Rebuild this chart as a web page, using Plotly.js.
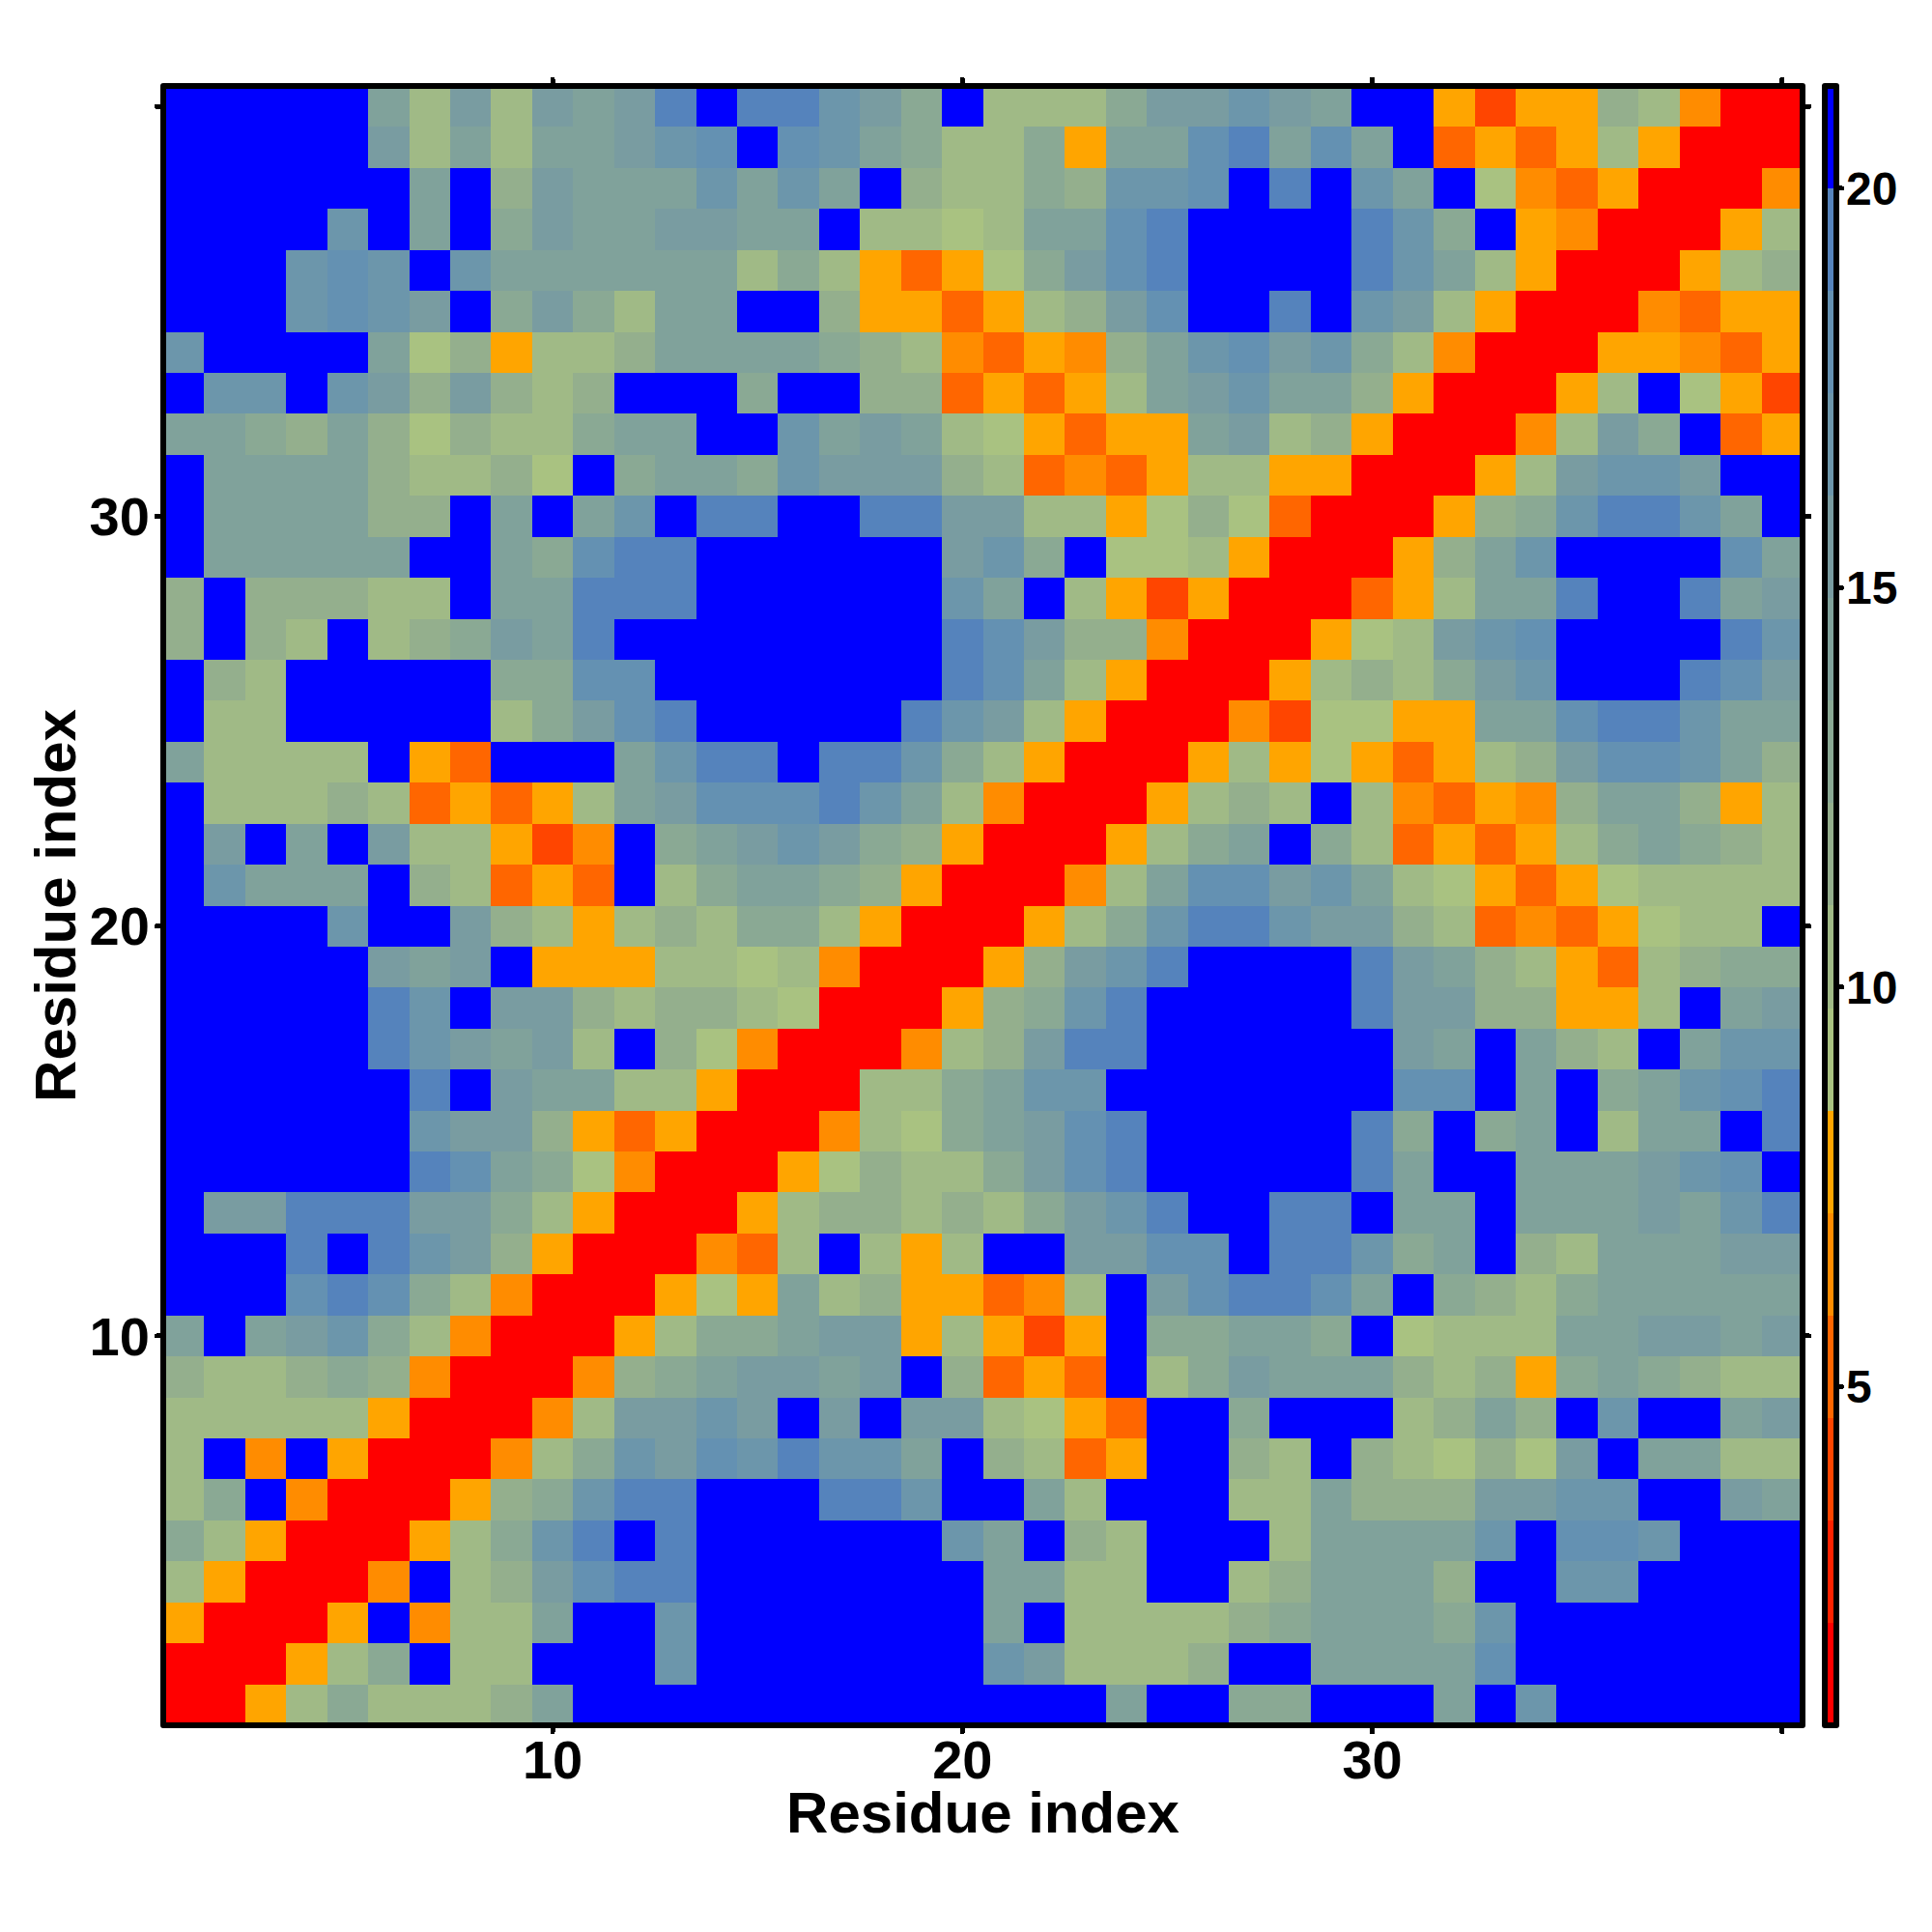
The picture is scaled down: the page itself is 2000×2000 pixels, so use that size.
<!DOCTYPE html>
<html>
<head>
<meta charset="utf-8">
<script src="https://cdn.plot.ly/plotly-3.0.1.min.js"></script>
<style>
html,body{margin:0;padding:0;background:#fff}
.ticks{stroke-linecap:round}
.shapelayer path{stroke-linejoin:round}
.cboutline{stroke-linejoin:round}
</style>
</head>
<body>
<div id="chart" style="width:2000px;height:2000px"></div>
<script>
const residues = [];
for (let i = 1; i <= 40; i++) residues.push(i);

const y40 = [21,21,21,21,21,14,10,15,10,15,14,15,19,21,19,19,17,15,13,21,10,10,10,13,15,15,17,15,14,21,21,8,4,8,8,12,10,6,1,1];
const y39 = [21,21,21,21,21,15,10,14,10,14,14,15,17,18,21,18,17,14,13,10,10,13,8,14,14,18,19,14,18,14,21,5,8,5,8,10,8,1,1,1];
const y38 = [21,21,21,21,21,21,14,21,12,15,14,14,14,17,14,17,14,21,12,10,10,13,12,17,17,18,21,19,21,17,14,21,9,6,5,8,1,1,1,6];
const y37 = [21,21,21,21,17,21,14,21,13,15,14,14,15,15,14,14,21,10,10,9,10,14,14,18,19,21,21,21,21,19,17,13,21,8,6,1,1,1,8,10];
const y36 = [21,21,21,17,18,17,21,17,14,14,14,14,14,14,10,13,10,8,5,8,9,13,15,18,19,21,21,21,21,19,17,14,10,8,1,1,1,8,10,12];
const y35 = [21,21,21,17,18,17,15,21,13,15,13,10,14,14,21,21,12,8,8,5,8,10,12,15,18,21,21,19,21,17,15,10,8,1,1,1,6,5,8,8];
const y34 = [17,21,21,21,21,14,9,12,8,10,10,12,14,14,14,14,13,12,10,6,5,8,6,12,14,17,18,15,17,13,10,6,1,1,1,8,8,6,5,8];
const y33 = [21,17,17,21,17,15,12,15,12,10,12,21,21,21,13,21,21,12,12,5,8,5,8,10,14,15,17,14,14,12,8,1,1,1,8,10,21,9,8,4];
const y32 = [14,14,13,12,14,12,9,12,10,10,13,14,14,21,21,17,14,15,14,10,9,8,5,8,8,14,15,10,12,8,1,1,1,6,10,15,13,21,5,8];
const y31 = [21,14,14,14,14,12,10,10,12,9,21,13,14,14,13,17,15,15,15,12,10,5,6,5,8,10,10,8,8,1,1,1,8,10,15,17,17,15,21,21];
const y30 = [21,14,14,14,14,12,12,21,14,21,14,17,21,19,19,21,21,19,19,15,15,10,10,8,9,12,9,5,1,1,1,8,12,13,17,19,19,17,14,21];
const y29 = [21,14,14,14,14,14,21,21,14,13,18,19,19,21,21,21,21,21,21,15,17,13,21,9,9,10,8,1,1,1,8,12,14,17,21,21,21,21,18,14];
const y28 = [12,21,12,12,12,10,10,21,14,14,19,19,19,21,21,21,21,21,21,17,14,21,10,8,4,8,1,1,1,5,8,10,14,14,19,21,21,19,14,15];
const y27 = [12,21,12,10,21,10,12,13,15,14,19,21,21,21,21,21,21,21,21,19,18,15,12,12,6,1,1,1,8,9,10,15,17,18,21,21,21,21,19,17];
const y26 = [21,12,10,21,21,21,21,21,13,13,18,18,21,21,21,21,21,21,21,19,18,14,10,8,1,1,1,8,10,12,10,13,15,17,21,21,21,19,18,15];
const y25 = [21,10,10,21,21,21,21,21,10,13,15,18,19,21,21,21,21,21,19,17,15,10,8,1,1,1,6,4,9,9,8,8,14,14,18,19,19,17,14,14];
const y24 = [14,10,10,10,10,21,8,5,21,21,21,14,17,19,19,21,19,19,17,13,10,8,1,1,1,8,10,8,9,8,5,8,10,12,15,18,18,17,14,12];
const y23 = [21,10,10,10,12,10,5,8,5,8,10,14,15,18,18,18,19,17,14,10,6,1,1,1,8,10,12,10,21,10,6,5,8,6,12,14,14,12,8,10];
const y22 = [21,15,21,14,21,15,10,10,8,4,6,21,13,14,15,17,15,13,12,8,1,1,1,8,10,13,14,21,13,10,5,8,5,8,10,13,14,13,12,10];
const y21 = [21,17,14,14,14,21,12,10,5,8,5,21,10,13,14,14,13,12,8,1,1,1,6,10,14,18,18,15,17,14,10,9,8,5,8,9,10,10,10,10];
const y20 = [21,21,21,21,17,21,21,15,12,10,8,10,12,10,13,13,10,8,1,1,1,8,10,13,17,19,19,17,15,15,12,10,5,6,5,8,9,10,10,21];
const y19 = [21,21,21,21,21,15,14,15,21,8,8,8,10,10,9,10,6,1,1,1,8,12,15,17,19,21,21,21,21,19,15,14,12,10,8,5,10,12,13,13];
const y18 = [21,21,21,21,21,19,17,21,15,15,12,10,12,12,10,9,1,1,1,8,12,13,17,19,21,21,21,21,21,19,15,15,12,12,8,8,10,21,14,15];
const y17 = [21,21,21,21,21,19,17,15,14,15,10,21,12,9,6,1,1,1,6,10,12,15,19,19,21,21,21,21,21,21,15,14,21,14,12,10,21,14,17,17];
const y16 = [21,21,21,21,21,21,19,21,15,14,14,10,10,8,1,1,1,10,10,13,14,17,17,21,21,21,21,21,21,21,18,18,21,14,21,13,14,17,18,19];
const y15 = [21,21,21,21,21,21,17,15,15,12,8,5,8,1,1,1,6,10,9,13,14,15,18,19,21,21,21,21,21,19,13,21,13,14,21,10,14,14,21,19];
const y14 = [21,21,21,21,21,21,19,18,14,13,9,6,1,1,1,8,9,12,10,10,13,15,18,19,21,21,21,21,21,19,14,21,21,14,14,14,15,17,18,21];
const y13 = [21,15,15,19,19,19,15,15,13,10,8,1,1,1,8,10,12,12,10,12,10,13,15,17,19,21,21,19,19,21,14,14,21,14,14,14,15,14,17,19];
const y12 = [21,21,21,19,21,19,17,15,12,8,1,1,1,6,5,10,21,10,8,10,21,21,15,15,18,18,21,19,19,17,13,14,21,12,10,14,14,14,15,15];
const y11 = [21,21,21,18,19,18,13,10,6,1,1,1,8,9,8,14,10,12,8,8,5,6,10,21,15,18,19,19,18,14,21,13,12,10,13,14,14,14,14,14];
const y10 = [14,21,14,15,17,13,10,6,1,1,1,8,10,13,13,14,15,15,8,10,8,4,8,21,13,13,14,14,13,21,9,10,10,10,14,14,15,15,14,15];
const y9  = [12,10,10,12,13,12,6,1,1,1,6,12,13,14,15,15,14,15,21,12,5,8,5,21,10,13,15,14,14,14,12,10,12,8,13,14,13,12,10,10];
const y8  = [10,10,10,10,10,8,1,1,1,6,10,15,15,17,15,21,15,21,15,15,10,9,8,5,21,21,13,21,21,21,10,12,14,12,21,17,21,21,14,15];
const y7  = [10,21,6,21,8,1,1,1,6,10,13,17,15,18,17,19,17,17,14,21,12,10,5,8,21,21,12,10,21,12,10,9,12,9,15,21,14,14,10,10];
const y6  = [10,13,21,6,1,1,1,8,12,13,17,19,19,21,21,21,19,19,17,21,21,14,10,21,21,21,10,10,14,12,12,12,15,15,17,17,21,21,15,14];
const y5  = [13,10,8,1,1,1,8,10,13,17,19,21,19,21,21,21,21,21,21,17,14,21,12,10,21,21,21,10,14,14,14,14,17,21,18,18,17,21,21,21];
const y4  = [10,8,1,1,1,6,21,10,12,15,18,19,19,21,21,21,21,21,21,21,14,14,10,10,21,21,10,12,14,14,14,12,21,21,17,17,21,21,21,21];
const y3  = [8,1,1,1,8,21,6,10,10,14,21,21,17,21,21,21,21,21,21,21,14,21,10,10,10,10,12,13,14,14,14,13,17,21,21,21,21,21,21,21];
const y2  = [1,1,1,8,10,13,21,10,10,21,21,21,17,21,21,21,21,21,21,21,17,15,10,10,10,12,21,21,14,14,14,14,18,21,21,21,21,21,21,21];
const y1  = [1,1,8,10,13,10,10,10,12,14,21,21,21,21,21,21,21,21,21,21,21,21,21,14,21,21,13,13,21,21,21,14,21,17,21,21,21,21,21,21];

const zRows = [y1,y2,y3,y4,y5,y6,y7,y8,y9,y10,y11,y12,y13,y14,y15,y16,y17,y18,y19,y20,
               y21,y22,y23,y24,y25,y26,y27,y28,y29,y30,y31,y32,y33,y34,y35,y36,y37,y38,y39,y40];

const palette = ['#FF0000','#FF2200','#FF4500','#FF6600','#FF8C00','#FFA500',
                 '#A9C281','#A0BA86','#94AF8D','#8AA994','#80A29B','#799CA1',
                 '#6C96AB','#6491B2','#5583BC','#0000FF'];
const zMin = 0.76, zMax = 21.28;
const stepped = [];
palette.forEach((c, i) => {
  stepped.push([i / palette.length, c]);
  stepped.push([(i + 1) / palette.length, c]);
});

const axisTickVals = [10, 20, 30, 40];
const axisTickText = ['10', '20', '30', ''];
const barTickVals = [5, 10, 15, 20];
const axisLabel = 'Residue index';
const FONT = '"Liberation Sans", Arial, sans-serif';

const axisCommon = {
  range: [0.5, 40.5],
  tickmode: 'array',
  tickvals: axisTickVals,
  ticktext: axisTickText,
  ticks: 'outside',
  ticklen: 6,
  tickwidth: 5,
  tickcolor: '#000',
  showline: false,
  mirror: 'ticks',
  showgrid: false,
  zeroline: false,
  tickangle: 0,
  tickfont: {family: FONT, size: 56, color: '#000', weight: 'bold'}
};

Plotly.newPlot('chart', [{
  type: 'heatmap',
  x: residues,
  y: residues,
  z: zRows,
  zmin: zMin,
  zmax: zMax,
  colorscale: stepped,
  hoverongaps: false,
  colorbar: {
    x: 1.0138, xanchor: 'left', xref: 'paper',
    y: 0.5, yanchor: 'middle', yref: 'paper',
    lenmode: 'pixels', len: 1697,
    thicknessmode: 'pixels', thickness: 12,
    xpad: 0, ypad: 0,
    outlinewidth: 6, outlinecolor: '#000',
    borderwidth: 0,
    tickmode: 'array', tickvals: barTickVals, ticktext: barTickVals.map(String),
    ticks: 'outside', ticklen: 3, tickwidth: 5, tickcolor: '#000',
    tickfont: {family: FONT, size: 48, color: '#000', weight: 'bold'}
  }
}], {
  width: 2000,
  height: 2000,
  paper_bgcolor: '#fff',
  plot_bgcolor: '#fff',
  margin: {l: 169, r: 134, t: 89, b: 214, pad: 0, autoexpand: false},
  xaxis: Object.assign({}, axisCommon, {
    ticklabelstandoff: -19,
    title: {text: axisLabel, standoff: 0, font: {family: FONT, size: 60, color: '#000', weight: 'bold'}}
  }),
  yaxis: Object.assign({}, axisCommon, {
    ticklabelstandoff: -4,
    title: {text: axisLabel, standoff: 0, font: {family: FONT, size: 60, color: '#000', weight: 'bold'}}
  }),
  shapes: [{
    type: 'rect', xref: 'paper', yref: 'paper', x0: 0, x1: 1, y0: 0, y1: 1,
    line: {color: '#000', width: 6}, fillcolor: 'rgba(0,0,0,0)', layer: 'above'
  }],
  showlegend: false
}, {displayModeBar: false, staticPlot: true}).then(() => {
  document.querySelectorAll('.cbaxis text').forEach(t => t.setAttribute('dx', '-5'));
  const xt = document.querySelector('.g-xtitle');
  const yt = document.querySelector('.g-ytitle');
  if (xt) xt.setAttribute('transform', 'translate(0,2)');
  if (yt) yt.setAttribute('transform', 'translate(6,0)');
});
</script>
</body>
</html>
